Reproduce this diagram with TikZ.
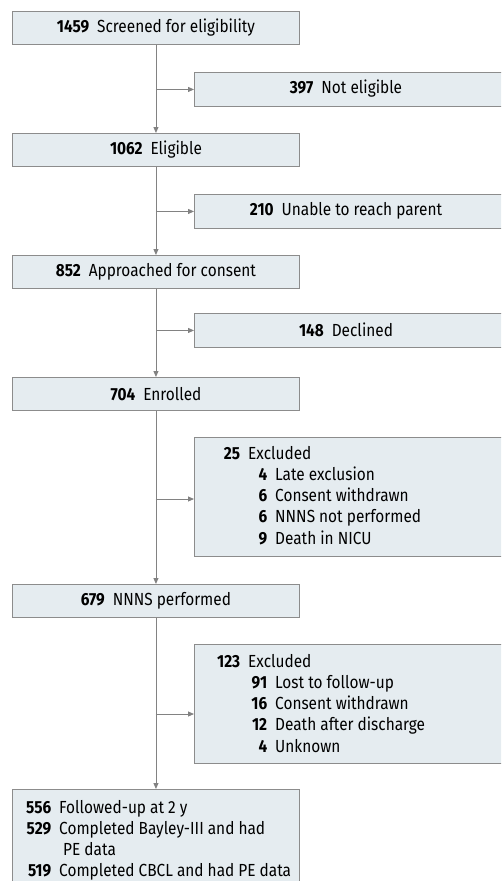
\documentclass[tikz,border=0pt]{standalone}
\usepackage{fontspec}
\setmainfont{Fira Sans}[FakeStretch=0.88]
\usetikzlibrary{arrows.meta}
\definecolor{boxfill}{RGB}{229,236,240}
\definecolor{boxline}{RGB}{140,140,140}
\definecolor{arrowc}{RGB}{130,130,130}
\newcommand{\num}[2]{\makebox[#1][r]{\bfseries #2}\hspace{8pt}}
\begin{document}
\begin{tikzpicture}[x=1pt,y=-1pt,
  every node/.style={font=\fontsize{17.5}{21.2}\selectfont},
  mainbox/.style={draw=boxline, fill=boxfill, line width=0.9pt, minimum width=287pt, minimum height=33pt, inner sep=0pt, anchor=north west},
  sidebox/.style={draw=boxline, fill=boxfill, line width=0.9pt, minimum width=330pt, anchor=north west, inner sep=0pt},
  txt/.style={inner sep=0pt, align=left, anchor=north west},
  ctxt/.style={inner sep=0pt},
  arr/.style={draw=arrowc, line width=0.9pt, -{Triangle[length=6pt,width=5pt]}}
]
\useasboundingbox (0,0) rectangle (501,881);
\clip (0,0) rectangle (501,881);

% main column
\node[mainbox] (b1) at (12,11) {\textbf{1459}\hspace{8pt}Screened for eligibility};
\node[mainbox] (b2) at (12,133) {\textbf{1062}\hspace{8pt}Eligible};
\node[mainbox] (b3) at (12,255) {\textbf{852}\hspace{8pt}Approached for consent};
\node[mainbox] (b4) at (12,377) {\textbf{704}\hspace{8pt}Enrolled};
\node[mainbox] (b5) at (12,584) {\textbf{679}\hspace{8pt}NNNS performed};
\node[mainbox, minimum height=120pt] (b6) at (12,789) {};
\node[txt] (t6) at (18,800) {\num{33pt}{556}Followed-up at 2 y\\
\num{33pt}{529}Completed Bayley-III and had\\
\hspace{45pt}PE data\\
\num{33pt}{519}Completed CBCL and had PE data};

% side boxes
\node[sidebox, minimum height=34pt] (s1) at (194,72) {};
\node[ctxt] (ts1) at (346,89) {\textbf{397}\hspace{8pt}Not eligible};
\node[sidebox, minimum height=34pt] (s2) at (194,194) {};
\node[ctxt] (ts2) at (346,211) {\textbf{210}\hspace{8pt}Unable to reach parent};
\node[sidebox, minimum height=34pt] (s3) at (194,313) {};
\node[ctxt] (ts3) at (346,330) {\textbf{148}\hspace{8pt}Declined};
\node[sidebox, minimum height=119pt] (e1) at (194,437) {};
\node[txt] (te1) at (206,446) {\num{34pt}{25}Excluded\\
\num{61pt}{4}Late exclusion\\
\num{61pt}{6}Consent withdrawn\\
\num{61pt}{6}NNNS not performed\\
\num{61pt}{9}Death in NICU};
\node[sidebox, minimum height=119pt] (e2) at (194,644) {};
\node[txt] (te2) at (206,654) {\num{34pt}{123}Excluded\\
\num{61pt}{91}Lost to follow-up\\
\num{61pt}{16}Consent withdrawn\\
\num{61pt}{12}Death after discharge\\
\num{61pt}{4}Unknown};

% connectors
\draw[arr] (b1.south) -- (b2.north);
\draw[arr] (b2.south) -- (b3.north);
\draw[arr] (b3.south) -- (b4.north);
\draw[arr] (b4.south) -- (b5.north);
\draw[arr] (b5.south) -- (b6.north);
\draw[arr] (b1.south |- s1.west) -- (s1.west);
\draw[arr] (b2.south |- s2.west) -- (s2.west);
\draw[arr] (b3.south |- s3.west) -- (s3.west);
\coordinate (j4) at (155.5,499);
\draw[arr] (j4) -- (j4 -| e1.west);
\coordinate (j5) at (155.5,714);
\draw[arr] (j5) -- (j5 -| e2.west);
\end{tikzpicture}
\end{document}
